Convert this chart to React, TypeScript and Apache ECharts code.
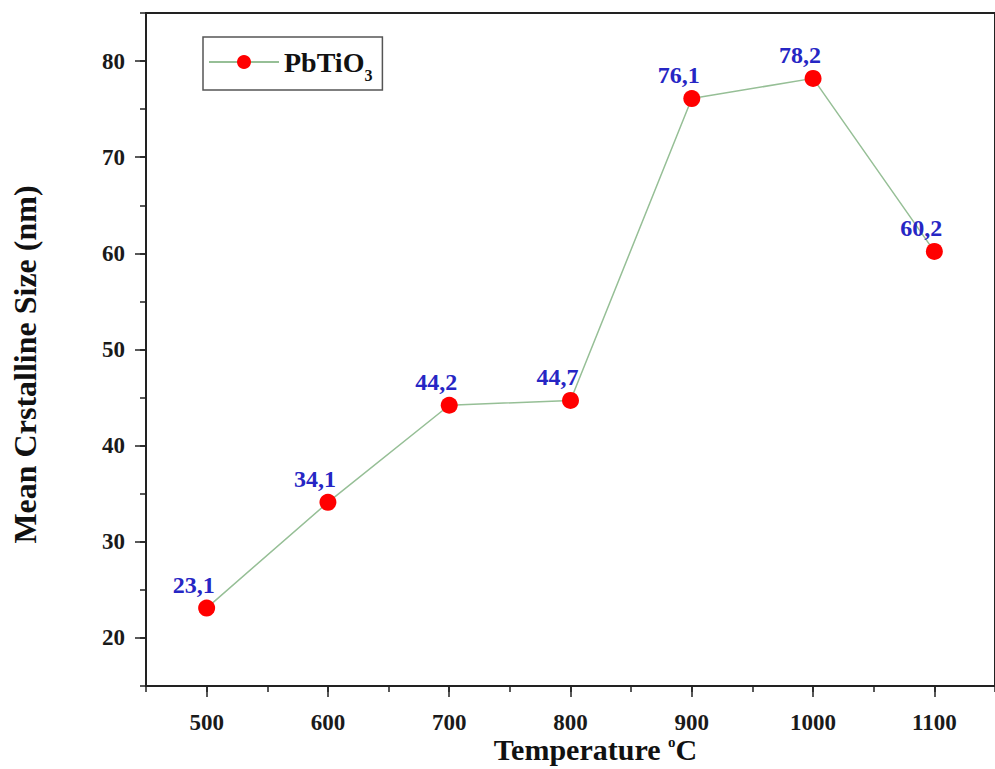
import React, { useEffect, useRef } from "react";
import * as echarts from "echarts";

// Calcination temperature (°C) and mean crystallite size (nm)
const temperatures = [500, 600, 700, 800, 900, 1000, 1100];
const crystalliteSizes = [23.1, 34.1, 44.2, 44.7, 76.1, 78.2, 60.2];

// Labelled (major) tick positions
const xTickLabels = [500, 600, 700, 800, 900, 1000, 1100];
const yTickLabels = [20, 30, 40, 50, 60, 70, 80];

const seriesName = "PbTiO3";

const SERIF = "'Liberation Serif', 'Times New Roman', serif";
const AXIS_COLOR = "#222";

export default function App() {
  const ref = useRef<HTMLDivElement>(null);

  useEffect(() => {
    const chart = echarts.init(ref.current!, null, { renderer: "svg" });

    const axisLine = { show: true, onZero: false, lineStyle: { color: AXIS_COLOR, width: 2 } };
    const tickStyle = { color: AXIS_COLOR, width: 1.5 };
    const tickLabel = {
      fontFamily: SERIF,
      fontWeight: "bold",
      fontSize: 23,
      lineHeight: 24,
      color: "#1a1a1a",
      formatter: (v: number) => String(v),
    };

    chart.setOption({
      animation: false,
      backgroundColor: "#ffffff",
      grid: {
        left: 146,
        top: 13,
        right: -9,
        bottom: 82.5,
        show: true,
        borderColor: AXIS_COLOR,
        borderWidth: 2,
        backgroundColor: "transparent",
      },
      legend: {
        data: [seriesName],
        left: 203,
        top: 37,
        orient: "horizontal",
        itemWidth: 70,
        itemHeight: 17.5,
        padding: [11, 10, 7, 5],
        borderColor: "#555",
        borderWidth: 1.5,
        backgroundColor: "#ffffff",
        formatter: () => "{a|PbTiO}{b|3}",
        textStyle: {
          rich: {
            a: { fontFamily: SERIF, fontWeight: "bold", fontSize: 28, color: "#111", lineHeight: 42 },
            b: {
              fontFamily: SERIF,
              fontWeight: "bold",
              fontSize: 16,
              color: "#111",
              lineHeight: 16,
              verticalAlign: "bottom",
            },
          },
        },
      },
      xAxis: [
        {
          type: "value",
          position: "bottom",
          min: 450,
          max: 1150,
          interval: 50,
          axisLine,
          axisTick: { show: true, length: 6, lineStyle: tickStyle },
          axisLabel: { show: false },
          splitLine: { show: false },
          name: "{t|Temperature }{s|o}{t|C}",
          nameLocation: "middle",
          nameGap: 48,
          nameTextStyle: {
            padding: [0, 0, 0, 50],
            rich: {
              t: { fontFamily: SERIF, fontWeight: "bold", fontSize: 30, color: "#111", lineHeight: 30 },
              s: {
                fontFamily: SERIF,
                fontWeight: "bold",
                fontSize: 15,
                color: "#111",
                lineHeight: 15,
                verticalAlign: "top",
              },
            },
          },
        },
        {
          type: "value",
          position: "bottom",
          min: 450,
          max: 1150,
          axisLine: { show: false, onZero: false },
          axisTick: { show: true, length: 11, customValues: xTickLabels, lineStyle: tickStyle },
          axisLabel: { ...tickLabel, customValues: xTickLabels, margin: 24 },
          splitLine: { show: false },
        },
      ],
      yAxis: [
        {
          type: "value",
          position: "left",
          min: 15,
          max: 85,
          interval: 5,
          axisLine,
          axisTick: { show: true, length: 6, lineStyle: tickStyle },
          axisLabel: { show: false },
          splitLine: { show: false },
          name: "Mean Crstalline Size (nm)",
          nameLocation: "middle",
          nameGap: 105,
          nameTextStyle: {
            fontFamily: SERIF,
            fontWeight: "bold",
            fontSize: 32,
            color: "#111",
            lineHeight: 32,
            padding: [0, 30, 0, 0],
          },
        },
        {
          type: "value",
          position: "left",
          min: 15,
          max: 85,
          axisLine: { show: false, onZero: false },
          axisTick: { show: true, length: 11, customValues: yTickLabels, lineStyle: tickStyle },
          axisLabel: { ...tickLabel, customValues: yTickLabels, margin: 21 },
          splitLine: { show: false },
        },
      ],
      series: [
        {
          name: seriesName,
          type: "line",
          xAxisIndex: 0,
          yAxisIndex: 0,
          data: temperatures.map((t, i) => [t, crystalliteSizes[i]]),
          symbol: "circle",
          symbolSize: 17,
          itemStyle: { color: "#ff0000" },
          lineStyle: { color: "#96bf96", width: 1.5 },
          label: {
            show: true,
            position: "top",
            distance: 3,
            offset: [-13, 0],
            formatter: (p: any) => String(p.value[1]).replace(".", ","),
            fontFamily: SERIF,
            fontWeight: "bold",
            fontSize: 24,
            color: "#2626c4",
          },
        },
      ],
    });

    return () => chart.dispose();
  }, []);

  return (
    <div
      ref={ref}
      style={{ position: "fixed", left: 0, top: 0, width: 995, height: 769, background: "#fff" }}
    />
  );
}
